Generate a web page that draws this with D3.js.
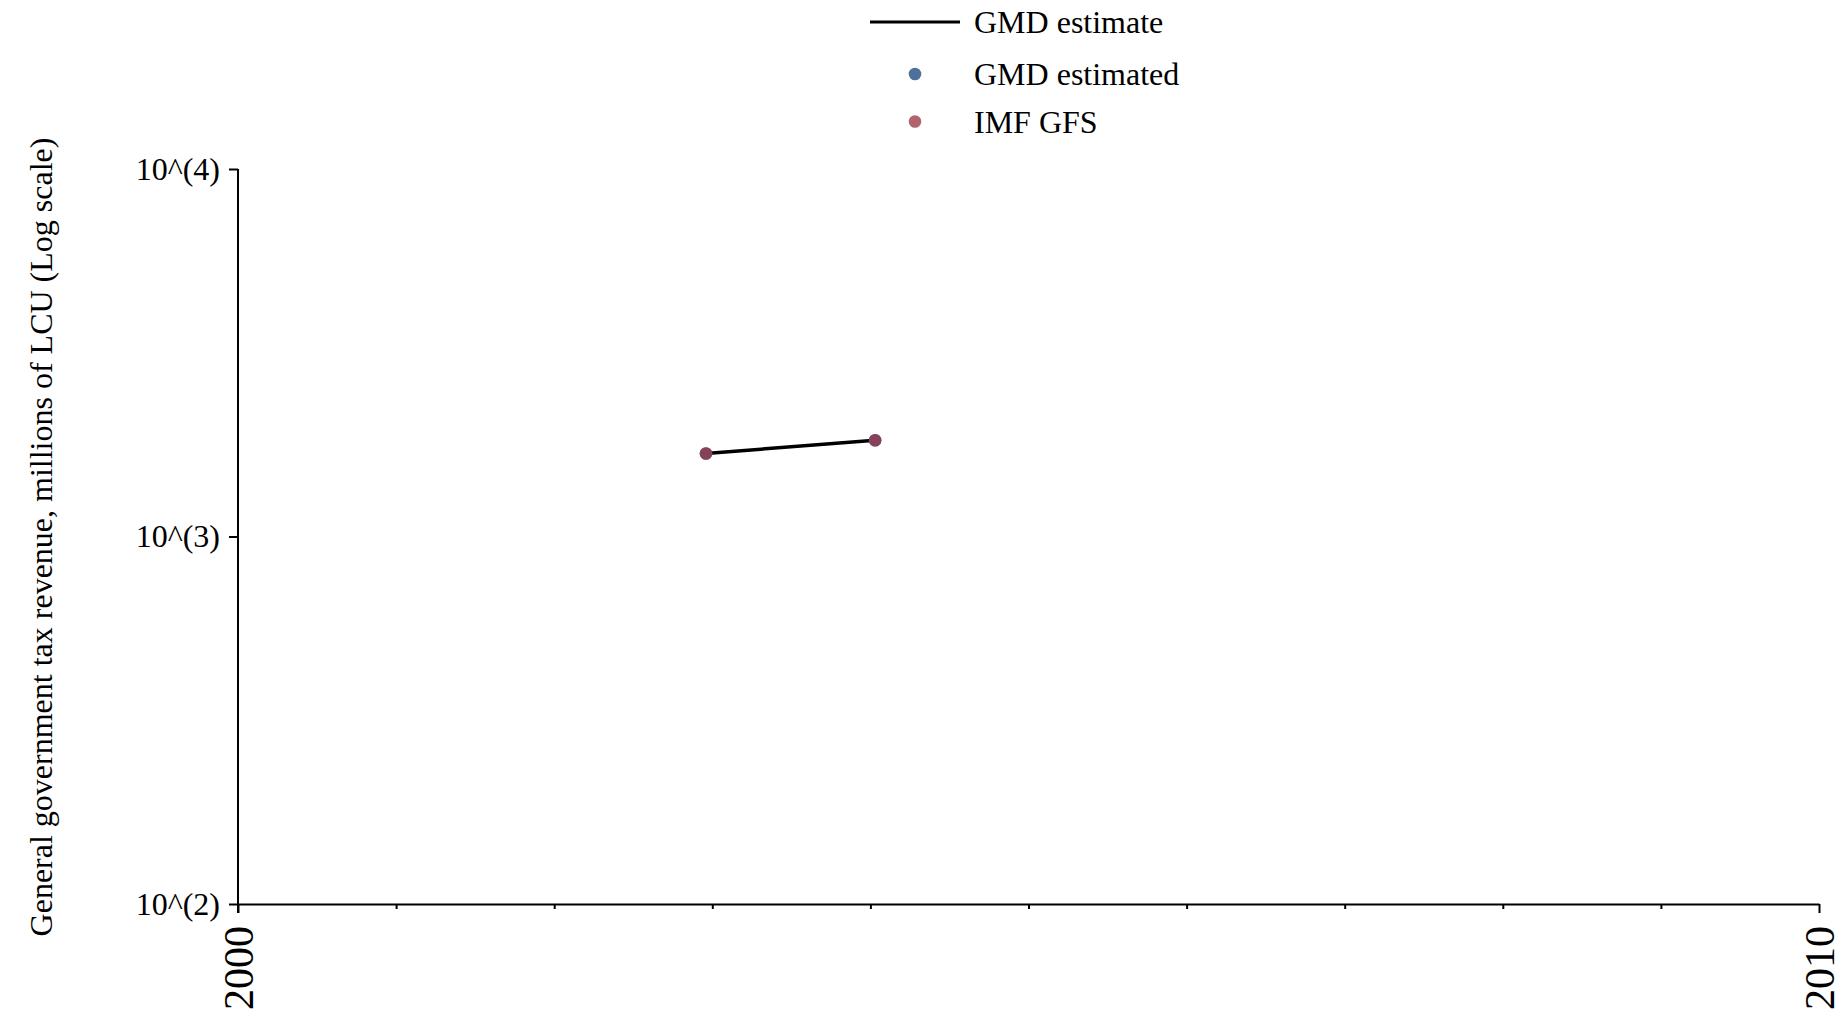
<!DOCTYPE html>
<html>
<head>
<meta charset="utf-8">
<script src="https://cdn.jsdelivr.net/npm/d3@7"></script>
<style>
  html, body { margin: 0; padding: 0; background: #fff; }
  svg { display: block; }
  text { font-family: "Liberation Serif", "Times New Roman", serif; fill: #000; }
</style>
</head>
<body>
<svg id="chart" width="1845" height="1012"></svg>
<script>
// Data
const years = [2002.96, 2004.03];
const gmdEstimate = [1682, 1828];
const imfGFS = [1682, 1828];
const gmdEstimated = [1682, 1828];
const yTickValues = [100, 1000, 10000];
const yTickLabels = ["10^(2)", "10^(3)", "10^(4)"];
const xMajorTicks = [2000, 2010];
const xMinorTicks = [2001, 2002, 2003, 2004, 2005, 2006, 2007, 2008, 2009];
const legendLabels = ["GMD estimate", "GMD estimated", "IMF GFS"];
const yTitle = "General government tax revenue, millions of LCU (Log scale)";

const svg = d3.select("#chart");
const x = d3.scaleLinear().domain([2000, 2010]).range([238, 1819]);
const y = d3.scaleLog().domain([100, 10000]).range([904, 169]);

// Axes
const yAxis = d3.axisLeft(y).tickValues(yTickValues)
  .tickFormat((d, i) => yTickLabels[i]).tickSize(9).tickPadding(9).tickSizeOuter(0);
const gy = svg.append("g").attr("transform", "translate(238,0)").call(yAxis);
gy.select(".domain").attr("stroke", "#000").attr("stroke-width", 2)
  .attr("d", "M0,169V913");
gy.selectAll(".tick line").attr("stroke", "#000").attr("stroke-width", 2);
gy.selectAll(".tick text").style("font-family", "Liberation Serif").style("font-size", "32px").attr("fill", "#000");

const xAxis = d3.axisBottom(x).tickValues(xMajorTicks).tickFormat(d3.format("d"))
  .tickSize(9).tickSizeOuter(0);
const gx = svg.append("g").attr("transform", "translate(0,904)").call(xAxis);
gx.select(".domain").attr("stroke", "#000").attr("stroke-width", 2);
gx.selectAll(".tick line").attr("stroke", "#000").attr("stroke-width", 2);
gx.selectAll(".tick text")
  .style("font-family", "Liberation Serif").style("font-size", "42px").attr("fill", "#000")
  .attr("transform", "rotate(-90)")
  .attr("text-anchor", "end")
  .attr("x", -22).attr("y", 0).attr("dy", "0.35em");

const xMinor = d3.axisBottom(x).tickValues(xMinorTicks).tickFormat("").tickSize(5).tickSizeOuter(0);
const gm = svg.append("g").attr("transform", "translate(0,904)").call(xMinor);
gm.select(".domain").remove();
gm.selectAll(".tick line").attr("stroke", "#000").attr("stroke-width", 2);

// Y title
svg.append("text")
  .attr("transform", "translate(41,537) rotate(-90)")
  .attr("text-anchor", "middle").attr("dy", "0.35em")
  .style("font-size", "32px")
  .text(yTitle);

// Line
const pts = years.map((yr, i) => ({ x: yr, v: gmdEstimate[i] }));
svg.append("path").datum(pts)
  .attr("fill", "none").attr("stroke", "#000").attr("stroke-width", 3.5)
  .attr("d", d3.line().x(d => x(d.x)).y(d => y(d.v)));

// Points: GMD estimated (blue) overlaid by IMF GFS (red, translucent)
svg.append("g").selectAll("circle").data(years.map((yr, i) => ({ x: yr, v: gmdEstimated[i] })))
  .join("circle").attr("cx", d => x(d.x)).attr("cy", d => y(d.v)).attr("r", 6.3)
  .attr("fill", "#4e6f96");
svg.append("g").selectAll("circle").data(years.map((yr, i) => ({ x: yr, v: imfGFS[i] })))
  .join("circle").attr("cx", d => x(d.x)).attr("cy", d => y(d.v)).attr("r", 6.3)
  .attr("fill", "#9c3146").attr("fill-opacity", 0.75);

// Legend
const lg = svg.append("g");
lg.append("line").attr("x1", 870).attr("x2", 960).attr("y1", 22).attr("y2", 22)
  .attr("stroke", "#000").attr("stroke-width", 3);
lg.append("circle").attr("cx", 915).attr("cy", 74).attr("r", 6.3).attr("fill", "#4f7199");
lg.append("circle").attr("cx", 915).attr("cy", 121.5).attr("r", 6.3).attr("fill", "#b0646e");
const legY = [22, 74, 121.5];
lg.selectAll("text.leg").data(legendLabels).join("text").attr("class", "leg")
  .attr("x", 974).attr("y", (d, i) => legY[i]).attr("dy", "0.35em")
  .style("font-size", "32px").text(d => d);
</script>
</body>
</html>
